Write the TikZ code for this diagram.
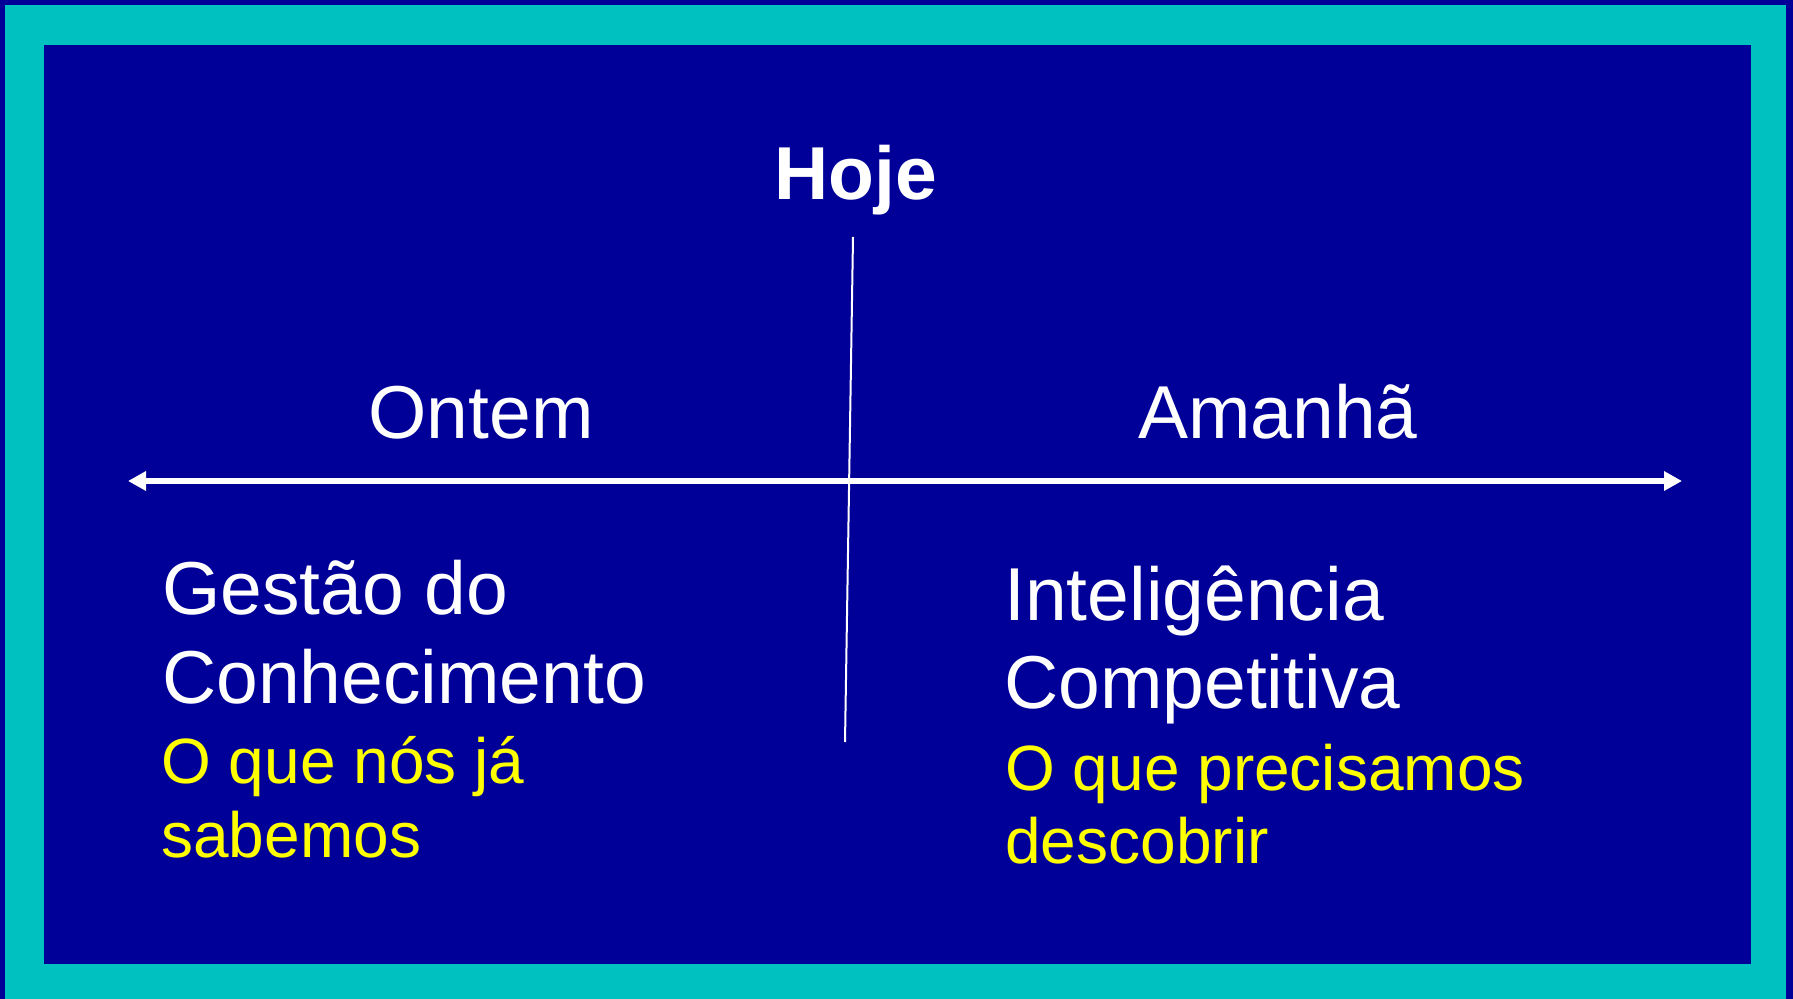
\documentclass[tikz,border=0pt]{standalone}
\usepackage{fontspec}
\setmainfont{Liberation Sans}
\usetikzlibrary{arrows.meta}
\definecolor{slideblue}{RGB}{0,0,153}
\definecolor{framecyan}{RGB}{0,192,192}
\definecolor{noteyellow}{RGB}{255,255,0}
\newcommand{\slidefont}{\fontsize{37.5}{42}\selectfont}
\newcommand{\notefont}{\fontsize{32}{36}\selectfont}
\tikzset{
  heading/.style={text=white, inner sep=0pt, anchor=base, font=\slidefont},
  topic/.style={text=white, inner sep=0pt, anchor=base west, font=\slidefont},
  note/.style={text=noteyellow, inner sep=0pt, anchor=base west, font=\notefont}
}
\begin{document}
\begin{tikzpicture}[x=0.5pt, y=-0.5pt]
\fill[slideblue] (0,0) rectangle (1793,999);
\fill[framecyan] (5,5) rectangle (1786,999);
\fill[slideblue] (44,45) rectangle (1751,964);

\node[heading, font=\slidefont\bfseries] (Hoje) at (856,200) {Hoje};
\node[heading] (Ontem) at (481,439) {Ontem};
\node[heading] (Amanha) at (1278,439) {Amanhã};

\coordinate (Past) at (128,481);
\coordinate (Future) at (1682,481);
\coordinate (NowTop) at (853,237);
\coordinate (NowBottom) at (845,742);
\draw[{Triangle[length=9pt,width=9.3pt]}-{Triangle[length=9pt,width=9.3pt]}, line width=3.2pt, white] (Past) -- (Future);
\draw[line width=1pt, white] (NowTop) -- (NowBottom);

\node[topic] (Gestao) at (162,614) {Gestão do};
\node[topic] (Conhecimento) at (162,703) {Conhecimento};
\node[note] (Sabemos1) at (161,783) {O que nós já};
\node[note] (Sabemos2) at (161,857) {sabemos};

\node[topic] (Inteligencia) at (1004,620) {Inteligência};
\node[topic] (Competitiva) at (1004,708) {Competitiva};
\node[note] (Descobrir1) at (1005,790) {O que precisamos};
\node[note] (Descobrir2) at (1005,863) {descobrir};
\end{tikzpicture}
\end{document}
